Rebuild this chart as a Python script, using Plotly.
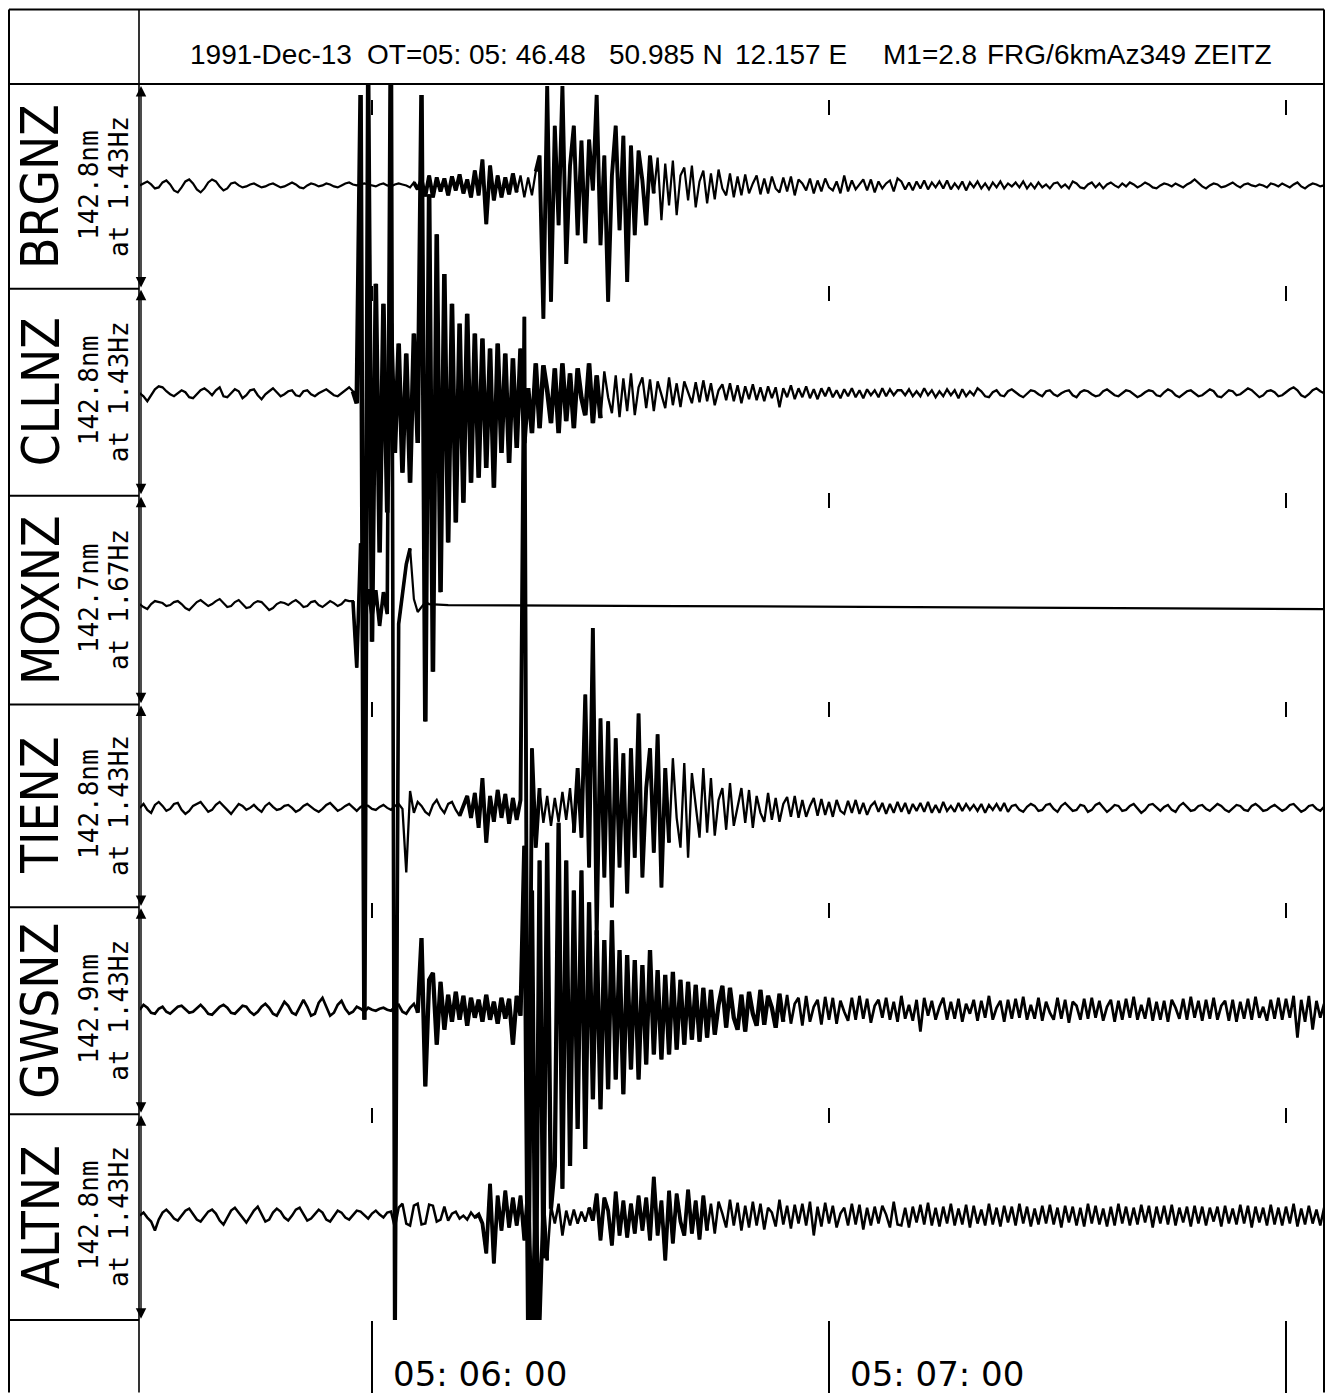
import plotly.graph_objects as go

# ---------------------------------------------------------------- data
T_START = -30.5   # time of first sample, seconds relative to 05:06:00
DT = 0.5          # sample interval, seconds

STATIONS = ["BRGNZ", "CLLNZ", "MOXNZ", "TIENZ", "GWSNZ", "ALTNZ"]
GAINS = ["142.8nm", "142.8nm", "142.7nm", "142.8nm", "142.9nm", "142.8nm"]
FREQS = ["at 1.43Hz", "at 1.43Hz", "at 1.67Hz", "at 1.43Hz", "at 1.43Hz", "at 1.43Hz"]
HEADER = ["1991-Dec-13", "OT=05: 05: 46.48", "50.985 N", "12.157 E", "M1=2.8",
          "FRG/6kmAz349 ZEITZ"]
MINUTE_TICKS = [0, 60, 120]
MINUTE_LABELS = ["05: 06: 00", "05: 07: 00", ""]

BRGNZ = [
    0, 2, 4, 1, -3, -2, 3, 5, 1, -5,
    -7, -2, 4, 6, 2, -4, -7, -3, 3, 6,
    4, -1, -5, -3, 2, 3, 0, -2, -1, 1,
    2, 0, -2, -1, 1, 2, 0, -2, -1, 1,
    3, 1, -2, -3, 0, 2, 1, -1, 0, 2,
    1, -1, -2, 0, 2, 3, 1, 0, 1, 2,
    1, 0, -1, 1, 2, 0, -1, 1, 2, 1,
    0, -2, 3, -4, 6, -11, 10, -12, 8, -6,
    7, -10, 9, -5, 11, -8, 6, -12, 15, -10,
    26, -39, 20, -15, 10, -12, 8, -9, 12, -7,
    10, -12, 8, -10, 14, 30, -134, 100, -117, 60,
    -40, 100, -79, 20, 60, -50, 45, -58, 46, -5,
    91, -60, 30, -117, 10, 60, -45, 50, -97, 40,
    -50, 35, 5, -40, 30, -8, 28, -35, 22, -20,
    25, -30, 10, 18, -15, 20, -22, 4, 15, -18,
    12, -14, 16, -3, -10, 12, -12, 9, -10, 11,
    -8, 2, 10, -9, 7, -8, 9, -3, -7, 8,
    -6, 9, -10, 6, 2, -5, 7, -8, 5, -6,
    7, -2, -5, 4, -8, 10, -6, 5, -4, 1,
    6, -5, 6, -7, 4, -3, 2, 5, -6, 7,
    4, -4, 3, -5, 4, -3, 5, -4, 3, -2,
    4, -3, 5, -4, 2, -3, 4, -5, 3, -2,
    4, -3, 2, -4, 3, -2, 4, -3, 2, -1,
    3, -2, 4, -3, 2, -3, 3, -2, 1, -3,
    2, 3, -2, 1, -3, 4, 2, -2, -3, 1,
    3, -2, 2, -3, 1, 3, 0, -2, 2, -1,
    3, 1, -2, 0, 3, 1, -2, -3, 0, 2,
    1, -1, 2, 0, -2, 1, 3, 6, 2, -1,
    -3, 0, 2, 1, -2, -1, 1, 3, 0, -2,
    1, 2, 0, -1, 1, 0, -2, 2, 1, -1,
    2, 0, -2, 1, 3, -1, -3, 0, 2, 1, -1, 0,
]

CLLNZ = [
    0, -3, -8, -2, 4, 7, 6, 2, -1, -3,
    0, 3, 1, -4, -5, -1, 3, 5, 2, -2,
    3, 6, -3, -4, 0, 4, 2, -5, -2, 3,
    4, -2, -6, -1, 2, 5, 1, -3, -1, 2,
    3, -2, -3, 2, 3, -1, -3, 0, 2, 4,
    1, -2, -3, 0, 3, 6, 2, -10, 300, -630,
    310, -250, 110, -160, 90, -120, 70, -60, 50, -80,
    40, -90, 60, -50, 300, -330, 200, -280, 160, -200,
    120, -150, 90, -130, 70, -110, 80, -90, 60, -85,
    55, -75, 45, -95, 50, -60, 40, -70, 35, -55,
    45, -50, 5, -40, 30, -35, 28, 3, -30, 25,
    -40, 30, -28, 20, -35, 25, -5, -22, 30, -30,
    18, -25, 22, -4, -20, 18, -24, 15, -18, 20,
    -22, 6, 16, -15, 14, -18, 12, -3, -15, 16,
    -12, 10, -14, 12, 2, -10, 11, -9, 13, -8,
    10, -12, 3, 9, -7, 10, -8, 8, -10, 7,
    -6, 9, -7, 6, -8, 7, -5, 6, -14, 5,
    -4, 8, -6, 5, -4, 7, -5, 4, -6, 5,
    -3, 6, -4, 3, -5, 4, -3, 5, -4, 3,
    -5, 4, -2, 3, -4, 5, -3, 4, -2, 3,
    3, -2, 4, -3, 2, -3, 5, -2, 3, -4,
    2, -3, 4, -2, 3, -5, 4, -3, 2, -2,
    5, 2, -3, -4, 1, 3, -2, -3, 2, 4,
    1, -2, -4, 0, 3, 2, -1, -3, 2, 3,
    -1, -3, 0, 2, 3, -2, -4, 1, 3, 2,
    -1, -3, -2, 2, 4, 1, -2, -3, 0, 3,
    2, -1, -4, -2, 1, 3, 2, -2, -3, 1,
    4, 2, -2, -4, -1, 2, 3, 0, -3, -2,
    1, 4, 2, -3, -4, 0, 3, 2, -2, -1,
    2, 5, 3, -1, -4, -2, 2, 3, 1, -3,
    -2, 1, 4, 6, 3, -2, -4, -1, 3, 5, 2, 0,
]

MOXNZ = [
    0, -3, -5, 0, 3, 2, 1, -2, -1, 2,
    3, 0, -4, -6, -2, 2, 4, 1, -2, 0,
    3, 5, 1, -3, -2, 2, 4, 0, -4, -3,
    1, 3, 2, -2, -6, -4, 0, 2, 1, -1,
    2, 4, 1, -3, -2, 2, 3, -1, -3, 0,
    3, 1, -2, 0, 4, 3, 3, -64, 61, -20,
    15, -12, 14, -22, 12, -10, 700, -800, -20, 10,
    40, 56, 5, -8, -3, 2, 0,
]
# after the glitch the MOXNZ channel is a flat line
MOXNZ_TAIL_T = [10.0, 40.0, 70.0, 100.0, 125.0]
MOXNZ_TAIL = [-1, -2, -3, -4, -5]

TIENZ = [
    0, 4, -2, -5, 3, 6, 2, -3, -1, 4,
    5, -2, -6, -3, 2, 4, 6, 1, -4, -2,
    3, 6, 2, -3, -6, -1, 4, 2, -2, 0,
    3, -1, -4, 2, 5, 1, -2, -1, 2, 3,
    0, -4, -2, 2, 4, 1, -2, -4, -1, 3,
    5, 1, -3, -1, 2, 4, 0, -3, 1, 3,
    2, -1, -2, 1, 3, 0, -2, 2, 4, -1,
    -65, 17, -5, 6, 2, -4, -7, 3, 8, 0,
    -5, 4, 6, -2, -8, 3, 12, -10, 15, -20,
    30, -35, 12, -14, 18, -10, 14, -16, 10, -12,
    8, 494, -515, 60, -40, 20, -15, 12, -18, 10,
    -14, 16, -12, 20, -25, 40, -30, 114, -60, 181,
    -128, 90, -70, 87, -100, 70, -60, 55, -86, 60,
    -50, 95, -70, 20, 60, -45, 74, -80, 40, -35,
    50, -10, -40, 45, -50, 35, 5, -30, 40, -25,
    30, -28, 8, 20, -22, 25, -18, 3, 20, -15,
    18, -20, 12, -5, -14, 15, -12, 10, -14, 4,
    11, -9, 12, -10, 8, -9, 2, 10, -8, 9,
    -7, 6, -9, 8, -3, -6, 7, -5, 8, -6,
    5, -7, 2, 6, -4, 5, -6, 4, -5, 6,
    -4, 5, -6, 4, -3, 5, -4, 6, -5, 3,
    -5, 6, -3, 2, -4, 5, -3, 4, -2, 3,
    -3, 4, -5, 3, -2, 4, -3, 5, -4, 2,
    3, -2, -4, 1, 4, 2, -3, -2, 3, 4,
    -1, -4, 2, 5, 1, -3, -2, 3, 2, -4,
    -2, 3, 5, 0, -4, -1, 3, 2, -3, -2,
    2, 4, -1, -5, -2, 3, 4, 0, -3, 1,
    3, -2, -4, 2, 5, 1, -3, -2, 2, 3,
    -1, -3, 1, 4, 2, -2, -4, 0, 3, 2,
    -2, -3, 2, 4, 1, -3, -2, 1, 3, 0,
    -3, -1, 3, 4, 0, -4, -2, 2, 3, -1, -3, 1,
]

GWSNZ = [
    0, 5, 2, -3, -4, 1, 3, -2, -4, 0,
    3, 4, 0, -3, -2, 2, 5, 1, -4, -5,
    -1, 3, 5, 2, -3, -4, 0, 4, 3, -2,
    -5, -2, 3, 6, 2, -4, -6, 1, 8, 4,
    -3, -5, 2, 10, 3, -6, -4, 7, 12, 2,
    -6, -3, 5, 9, 1, -4, -2, 3, 1, -2,
    2, 0, -1, 1, 2, 0, -1, 3, 5, -2,
    -4, 2, 6, -3, 72, -77, 30, 37, -35, 28,
    -20, 15, -12, 18, -10, 14, -16, 12, -8, 10,
    -12, 15, -10, 8, -14, 12, -9, 11, -35, 14,
    -6, 165, -320, 120, -330, 150, -250, 168, -200, -157,
    188, -180, 150, -157, 120, -120, 140, -140, 108, -90,
    80, -100, 70, -80, 90, -70, 60, -85, 55, -60,
    50, -70, 45, -55, 60, -45, 40, -50, 35, -45,
    38, -40, 30, -35, 28, -30, 25, -32, 22, -28,
    20, -25, 5, 24, -18, 22, -8, -20, 15, -22,
    18, -4, -16, 20, -15, 14, 2, -18, 16, -12,
    15, -14, 6, 12, -16, 14, -12, 3, 10, -15,
    13, -10, 12, -14, 9, -2, -11, 12, -10, 14,
    -9, 11, -13, 4, 10, -8, 12, -10, 8, -12,
    14, -9, 5, -11, 10, -22, 12, -6, 9, -10,
    3, 12, -10, 8, -9, 11, -12, 6, -4, 10,
    -11, 9, -8, 14, -10, 2, 9, -12, 10, -9,
    11, -8, 13, -10, 5, -9, 12, -11, 8, -3,
    -10, 12, -9, 10, -13, 8, 4, -10, 11, -9,
    12, -8, 9, -11, 3, 10, -12, 9, -10, 11,
    -8, 13, -10, 5, -9, 12, -11, 8, -10, 9,
    -12, 10, 2, -9, 11, -10, 13, -8, 9, -11,
    10, -9, 12, -10, 4, 9, -11, 10, -12, 8,
    -9, 11, -10, 13, -8, 3, -11, 10, -9, 12,
    -10, 11, -8, 14, -28, 10, -12, 14, -20, 9, -8, 6,
]

ALTNZ = [
    0, 3, -2, -6, -15, -4, 3, 6, 2, -3,
    -5, 0, 5, 7, 1, -4, -6, -1, 4, 6,
    2, -5, -9, -2, 5, 8, 3, -3, -7, -1,
    5, 9, 2, -6, -4, 3, 7, 4, -2, -5,
    0, 6, 8, 1, -5, -3, 2, 6, 3, -4,
    -6, 0, 5, 3, -2, -4, 1, 5, 4, 0,
    -3, 2, 5, 1, -2, 3, 4, -12, 8, 12,
    -8, -10, 10, 12, -9, -8, 11, 10, -6, -4,
    9, -5, 2, 4, -3, 0, -4, 3, -2, 1,
    -8, -38, 32, -48, 20, -15, 25, -12, 18, -10,
    20, -25, 30, -110, 15, -110, 12, -45, 10, -8,
    12, -20, 5, -10, 6, -8, 4, -6, 8, -5,
    22, -25, 18, 5, -30, 24, -20, 15, -22, 12,
    -18, 20, -15, 18, -25, 39, -20, 15, -45, 25,
    -28, 22, -6, -20, 26, -18, 15, -24, 20, -15,
    12, -18, 14, 2, -12, 16, -10, 13, -15, 10,
    -12, 14, -10, 12, -14, 8, 3, -11, 16, -9,
    10, -13, 11, -8, 12, -10, 14, -20, 9, -11,
    13, -8, 10, -12, 2, 8, -10, 12, -9, 11,
    -14, 8, -10, 9, -8, 10, 1, -12, 14, -9,
    -10, 8, -12, 9, -7, 11, -9, 13, -10, 8,
    -11, 9, -8, 12, -10, 7, -9, 11, -12, 10,
    -8, 6, -10, 12, -9, 8, -11, 10, -7, 9,
    -10, 12, -8, 9, -11, 7, -9, 10, -8, 11,
    -9, 8, -12, 10, -7, 9, -10, 8, -11, 12,
    -8, 10, -9, 7, -11, 9, -10, 12, -8, 9,
    -10, 8, -9, 11, -7, 10, -12, 9, -8, 10,
    -9, 11, -10, 8, -7, 9, -11, 10, -8, 9,
    -10, 8, -6, 9, -11, 10, -8, 7, -9, 11,
    -8, 10, -12, 9, -7, 8, -10, 11, -9, 8,
    -10, 9, -8, 12, -11, 7, -9, 10, -8, 6, -10, 8,
]

# ---------------------------------------------------------------- styling / geometry
W, H = 1330, 1397
PL, PR, PT, PB = 140, 5, 85, 70
PW, PH = W - PL - PR, H - PT - PB          # plot area 1185 x 1242
PX_PER_S = 457.0 / 60.0                    # 05:06:00 at x=372, 05:07:00 at x=829
X0_PX = 372
X_RANGE = [(PL - X0_PX) / PX_PER_S, (W - PR - X0_PX) / PX_PER_S]

ROW_EDGES = [85, 290, 498, 708, 912, 1120, 1327]   # pixel rows of the panels
BASELINES = [186, 395, 607, 812, 1015, 1222]       # pixel rows of trace zero lines
MARK_TOPS = [99, 286, 494, 704, 907, 1113]         # minute marks inside panels

# sample-index windows where the pen trace is drawn heavier (dense ink in the scan)
HEAVY = {
    "BRGNZ": [(72, 100), (104, 136)],
    "CLLNZ": [(56, 122)],
    "MOXNZ": [(56, 72)],
    "TIENZ": [(84, 106), (114, 140)],
    "GWSNZ": [(73, 170)],
    "ALTNZ": [(88, 108), (118, 150)],
}
HEAVY_WIDTH = {"BRGNZ": 3.9, "CLLNZ": 4.6, "MOXNZ": 3.6, "TIENZ": 3.9,
               "GWSNZ": 4.3, "ALTNZ": 3.8}
BASE_WIDTH = {"BRGNZ": 2.2, "CLLNZ": 2.3, "MOXNZ": 2.2, "TIENZ": 2.3,
              "GWSNZ": 2.7, "ALTNZ": 2.5}


def xp(px):
    return (px - PL) / PW


def yp(py):
    return (H - PB - py) / PH


def ybase(py):
    return (H - PB) - py


fig = go.Figure()

series = [BRGNZ, CLLNZ, MOXNZ, TIENZ, GWSNZ, ALTNZ]
for name, vals, bpx in zip(STATIONS, series, BASELINES):
    t = [T_START + DT * i for i in range(len(vals))]
    v = list(vals)
    b = ybase(bpx)
    tt, vv = t, v
    if name == "MOXNZ":
        tt = t + MOXNZ_TAIL_T
        vv = v + MOXNZ_TAIL
    fig.add_trace(go.Scatter(
        x=tt, y=[b + a for a in vv], mode="lines", name=name,
        line=dict(color="black", width=BASE_WIDTH[name]),
        hoverinfo="skip", showlegend=False))
    for i0, i1 in HEAVY[name]:
        fig.add_trace(go.Scatter(
            x=t[i0:i1], y=[b + a for a in v[i0:i1]], mode="lines",
            name=name + " (dense)",
            line=dict(color="black", width=HEAVY_WIDTH[name]),
            hoverinfo="skip", showlegend=False))

# minute marks drawn by extra overlaying time axes
for k, mt in enumerate(MARK_TOPS):
    ax_id = k + 2
    fig.add_trace(go.Scatter(x=[], y=[], xaxis=f"x{ax_id}", yaxis="y",
                             showlegend=False, hoverinfo="skip"))
    fig.update_layout(**{f"xaxis{ax_id}": dict(
        overlaying="x", anchor="free", position=yp(mt), side="bottom",
        range=X_RANGE, tickvals=MINUTE_TICKS, ticks="outside", ticklen=15,
        tickwidth=2.2, tickcolor="black", showticklabels=False,
        showline=False, showgrid=False, zeroline=False)})

fig.update_layout(
    width=W, height=H,
    margin=dict(l=PL, r=PR, t=PT, b=PB, pad=0),
    paper_bgcolor="white", plot_bgcolor="white",
    showlegend=False,
    xaxis=dict(range=X_RANGE, tickvals=MINUTE_TICKS, ticks="outside",
               ticklen=72, tickwidth=1.5, tickcolor="black",
               showticklabels=False, showgrid=False, zeroline=False,
               showline=False),
    yaxis=dict(range=[0, PH], visible=False, showgrid=False, zeroline=False),
)

LINE = dict(color="black", width=2)
shapes = []
# outer frame (left, top, right)
shapes.append(dict(type="line", xref="paper", yref="paper",
                   x0=xp(9), x1=xp(9), y0=yp(9), y1=yp(1400), line=LINE))
shapes.append(dict(type="line", xref="paper", yref="paper",
                   x0=xp(9), x1=xp(1324), y0=yp(9), y1=yp(9), line=LINE))
shapes.append(dict(type="line", xref="paper", yref="paper",
                   x0=xp(1324), x1=xp(1324), y0=yp(9), y1=yp(1400), line=LINE))
# header bottom line
shapes.append(dict(type="line", xref="paper", yref="paper",
                   x0=xp(9), x1=xp(1324), y0=yp(84), y1=yp(84), line=LINE))
# label column right edge
shapes.append(dict(type="line", xref="paper", yref="paper",
                   x0=xp(139), x1=xp(139), y0=yp(9), y1=yp(1400),
                   line=dict(color="black", width=1.6)))
# label box separators
for e in ROW_EDGES[1:]:
    shapes.append(dict(type="line", xref="paper", yref="paper",
                       x0=xp(9), x1=xp(139), y0=yp(e), y1=yp(e), line=LINE))
fig.update_layout(shapes=shapes)

ann = []
HFONT = dict(family="Liberation Sans, Arial, sans-serif", size=28, color="black")
HEADER_X = [271, 476, 666, 791, 930, 1129]
for txt, hx in zip(HEADER, HEADER_X):
    ann.append(dict(text=txt, x=xp(hx), y=yp(54), xref="paper", yref="paper",
                    showarrow=False, xanchor="center", yanchor="middle", font=HFONT))

NFONT = dict(family="DejaVu Sans Condensed, DejaVu Sans, sans-serif",
             size=51, color="black")
SFONT = dict(family="DejaVu Sans Mono, monospace", size=26, color="black")
for r, (st, g, f) in enumerate(zip(STATIONS, GAINS, FREQS)):
    top, bot = ROW_EDGES[r], ROW_EDGES[r + 1]
    mid = (top + bot) / 2
    ann.append(dict(text=st, x=xp(41), y=yp(mid), xref="paper", yref="paper",
                    textangle=-90, showarrow=False, xanchor="center",
                    yanchor="middle", font=NFONT))
    ann.append(dict(text=g, x=xp(89), y=yp(mid - 2), xref="paper", yref="paper",
                    textangle=-90, showarrow=False, xanchor="center",
                    yanchor="middle", font=SFONT))
    ann.append(dict(text=f, x=xp(119), y=yp(mid), xref="paper", yref="paper",
                    textangle=-90, showarrow=False, xanchor="center",
                    yanchor="middle", font=SFONT))
    # double-headed scale arrow spanning the panel
    ann.append(dict(text="", x=xp(141), y=yp(top + 1), xref="paper", yref="paper",
                    ax=0, ay=(bot - top - 2), axref="pixel", ayref="pixel",
                    showarrow=True, arrowhead=2, arrowside="end+start",
                    arrowsize=1.5, arrowwidth=1.4, arrowcolor="black",
                    standoff=0, startstandoff=0))

TFONT = dict(family="DejaVu Sans, sans-serif", size=34, color="black")
for tv, tl in zip(MINUTE_TICKS, MINUTE_LABELS):
    if tl:
        ann.append(dict(text=tl, x=tv, y=yp(1381), xref="x", yref="paper",
                        showarrow=False, xanchor="left", yanchor="middle",
                        xshift=19, font=TFONT))
fig.update_layout(annotations=ann)

fig.write_html("out.html")
